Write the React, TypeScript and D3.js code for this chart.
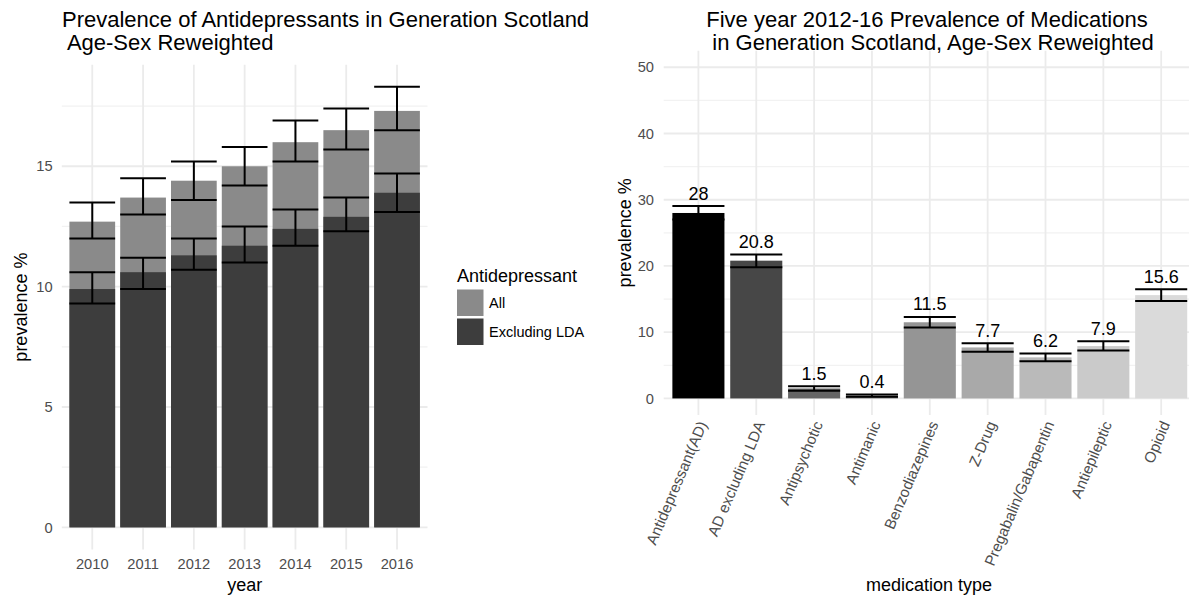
import React, { useRef, useEffect } from 'react';
import { select, scaleBand, scaleLinear, scaleOrdinal, max, range } from 'd3';

const width = 1189;
const height = 598;
const FONT = '"Liberation Sans", Arial, Helvetica, sans-serif';

// left chart: yearly prevalence
const years = ['2010', '2011', '2012', '2013', '2014', '2015', '2016'];
const allPrev = [12.7, 13.7, 14.4, 15.0, 16.0, 16.5, 17.3];
const allLower = [12.0, 13.0, 13.6, 14.2, 15.2, 15.7, 16.5];
const allUpper = [13.5, 14.5, 15.2, 15.8, 16.9, 17.4, 18.3];
const exclPrev = [9.9, 10.6, 11.3, 11.7, 12.4, 12.9, 13.9];
const exclLower = [9.3, 9.9, 10.7, 11.0, 11.7, 12.3, 13.1];
const exclUpper = [10.6, 11.2, 12.0, 12.5, 13.2, 13.7, 14.7];
const legendLabels = ['All', 'Excluding LDA'];

// right chart: five year prevalence by medication
const medTypes = ['Antidepressant(AD)', 'AD excluding LDA', 'Antipsychotic', 'Antimanic', 'Benzodiazepines', 'Z-Drug', 'Pregabalin/Gabapentin', 'Antiepileptic', 'Opioid'];
const medPrev = [28, 20.8, 1.5, 0.4, 11.5, 7.7, 6.2, 7.9, 15.6];
const medLower = [27.0, 19.8, 1.15, 0.25, 10.7, 7.05, 5.6, 7.25, 14.7];
const medUpper = [29.05, 21.75, 1.85, 0.6, 12.3, 8.35, 6.8, 8.65, 16.5];

const antiColors = ['#8a8a8a', '#3d3d3d'];
const medColors = ['#000000', '#474747', '#656565', '#7a7a7a', '#959595', '#a9a9a9', '#bababa', '#cacaca', '#dadada'];

const gridMajor = '#ebebeb';
const tickColor = '#4d4d4d';

const drawGrid = (g, x, y, majors, minors, box) => {
    g.selectAll('.minor')
        .data(minors)
        .join('line')
        .attr('x1', box.x0).attr('x2', box.x1)
        .attr('y1', d => y(d)).attr('y2', d => y(d))
        .attr('stroke', '#f2f2f2')
        .attr('stroke-width', 1.2)

    g.selectAll('.major')
        .data(majors)
        .join('line')
        .attr('x1', box.x0).attr('x2', box.x1)
        .attr('y1', d => y(d)).attr('y2', d => y(d))
        .attr('stroke', gridMajor)
        .attr('stroke-width', 1.8)

    g.selectAll('.vert')
        .data(x.domain())
        .join('line')
        .attr('x1', d => x(d) + x.bandwidth() / 2).attr('x2', d => x(d) + x.bandwidth() / 2)
        .attr('y1', box.y0).attr('y2', box.y1)
        .attr('stroke', gridMajor)
        .attr('stroke-width', 1.8)
}

const drawErrorBars = (g, x, y, cats, lower, upper) => {
    const eb = g.append('g')
    cats.forEach((c, i) => {
        const x0 = x(c), x1 = x(c) + x.bandwidth(), cx = x(c) + x.bandwidth() / 2
        eb.append('line').attr('x1', cx).attr('x2', cx).attr('y1', y(lower[i])).attr('y2', y(upper[i]))
        eb.append('line').attr('x1', x0).attr('x2', x1).attr('y1', y(lower[i])).attr('y2', y(lower[i]))
        eb.append('line').attr('x1', x0).attr('x2', x1).attr('y1', y(upper[i])).attr('y2', y(upper[i]))
    })
    eb.selectAll('line').attr('stroke', '#000').attr('stroke-width', 2)
}

const drawLeft = (svg) => {
    const box = { x0: 61.8, x1: 427.5, y0: 64.8, y1: 549.4 }
    const x = scaleBand().domain(years).range([box.x0, box.x1]).paddingInner(0.1).paddingOuter(0.15)
    const yMax = max(allUpper)
    const pad = yMax * 0.05
    const y = scaleLinear().domain([-pad, yMax + pad]).range([box.y1, box.y0])
    const majors = range(0, yMax + pad, 5)
    const minors = majors.map(d => d + 2.5).filter(d => d < yMax + pad)

    const g = svg.append('g')
    drawGrid(g.append('g'), x, y, majors, minors, box)

    g.append('g').selectAll('rect')
        .data(years)
        .join('rect')
        .attr('x', d => x(d)).attr('width', x.bandwidth())
        .attr('y', (d, i) => y(allPrev[i])).attr('height', (d, i) => y(0) - y(allPrev[i]))
        .attr('fill', antiColors[0])

    g.append('g').selectAll('rect')
        .data(years)
        .join('rect')
        .attr('x', d => x(d)).attr('width', x.bandwidth())
        .attr('y', (d, i) => y(exclPrev[i])).attr('height', (d, i) => y(0) - y(exclPrev[i]))
        .attr('fill', antiColors[1])

    drawErrorBars(g, x, y, years, allLower, allUpper)
    drawErrorBars(g, x, y, years, exclLower, exclUpper)

    // axes text
    g.append('g').selectAll('text')
        .data(majors)
        .join('text')
        .attr('x', 52.7).attr('y', d => y(d)).attr('dy', '0.35em')
        .attr('text-anchor', 'end')
        .attr('fill', tickColor).style('font-size', '14.7px')
        .text(d => d)

    g.append('g').selectAll('text')
        .data(years)
        .join('text')
        .attr('x', d => x(d) + x.bandwidth() / 2).attr('y', 568.5)
        .attr('text-anchor', 'middle')
        .attr('fill', tickColor).style('font-size', '14.7px')
        .text(d => d)

    g.append('text')
        .attr('x', (box.x0 + box.x1) / 2).attr('y', 591)
        .attr('text-anchor', 'middle').style('font-size', '18px')
        .text('year')

    g.append('text')
        .attr('transform', `translate(27, ${(box.y0 + box.y1) / 2}) rotate(-90)`)
        .attr('text-anchor', 'middle').style('font-size', '18px')
        .text('prevalence %')

    const title = g.append('text').style('font-size', '22px').style('white-space', 'pre')
    title.append('tspan').attr('x', 62).attr('y', 27).text('Prevalence of Antidepressants in Generation Scotland')
    title.append('tspan').attr('x', 62).attr('y', 50).text(' Age-Sex Reweighted')

    // legend
    const legend = g.append('g').attr('transform', 'translate(457, 0)')
    legend.append('text').attr('x', 0).attr('y', 282).style('font-size', '18px').text('Antidepressant')
    const item = legend.selectAll('.item')
        .data(legendLabels)
        .join('g')
        .attr('transform', (d, i) => `translate(0, ${289.5 + i * 29})`)
    item.append('rect').attr('width', 26.5).attr('height', 26.5).attr('fill', (d, i) => antiColors[i])
    item.append('text').attr('x', 32).attr('y', 13.25).attr('dy', '0.35em').style('font-size', '14.5px').text(d => d)
}

const drawRight = (svg) => {
    const box = { x0: 663.7, x1: 1195.9, y0: 50.7, y1: 415 }
    const x = scaleBand().domain(medTypes).range([box.x0, box.x1]).paddingInner(0.1).paddingOuter(0.15)
    const y = scaleLinear().domain([-2.5, 52.5]).range([box.y1, box.y0])
    const color = scaleOrdinal().domain(medTypes).range(medColors)
    const majors = range(0, 51, 10)
    const minors = range(5, 50, 10)

    const g = svg.append('g')
    drawGrid(g.append('g'), x, y, majors, minors, box)

    g.append('g').selectAll('rect')
        .data(medTypes)
        .join('rect')
        .attr('x', d => x(d)).attr('width', x.bandwidth())
        .attr('y', (d, i) => y(medPrev[i])).attr('height', (d, i) => y(0) - y(medPrev[i]))
        .attr('fill', d => color(d))

    drawErrorBars(g, x, y, medTypes, medLower, medUpper)

    g.append('g').selectAll('text')
        .data(medTypes)
        .join('text')
        .attr('x', d => x(d) + x.bandwidth() / 2).attr('y', (d, i) => y(medUpper[i]) - 6.5)
        .attr('text-anchor', 'middle').style('font-size', '18px')
        .text((d, i) => medPrev[i])

    g.append('g').selectAll('text')
        .data(majors)
        .join('text')
        .attr('x', 654).attr('y', d => y(d)).attr('dy', '0.35em')
        .attr('text-anchor', 'end')
        .attr('fill', tickColor).style('font-size', '14.7px')
        .text(d => d)

    g.append('g').selectAll('text')
        .data(medTypes)
        .join('text')
        .attr('transform', d => `translate(${x(d) + x.bandwidth() / 2 + 9}, 424) rotate(-67)`)
        .attr('text-anchor', 'end')
        .attr('fill', tickColor).style('font-size', '15.2px')
        .text(d => d)

    g.append('text')
        .attr('x', 929).attr('y', 591)
        .attr('text-anchor', 'middle').style('font-size', '18px')
        .text('medication type')

    g.append('text')
        .attr('transform', `translate(631, ${(box.y0 + box.y1) / 2}) rotate(-90)`)
        .attr('text-anchor', 'middle').style('font-size', '18px')
        .text('prevalence %')

    const title = g.append('text').style('font-size', '22px').style('white-space', 'pre').attr('text-anchor', 'middle')
    title.append('tspan').attr('x', 927).attr('y', 27).text('Five year 2012-16 Prevalence of Medications')
    title.append('tspan').attr('x', 930).attr('y', 50).text(' in Generation Scotland, Age-Sex Reweighted')
}

const App = () => {
    const d3svg = useRef(null)

    useEffect(() => {
        const svg = select(d3svg.current)
        svg.selectAll('*').remove()
        svg.style('font-family', FONT)
        drawLeft(svg)
        drawRight(svg)
    }, [])

    return (
        <svg
            ref={d3svg}
            width={width}
            height={height}
            style={{ position: 'absolute', left: 0, top: 0, background: '#fff' }}
        ></svg>
    )
}

export default App;
